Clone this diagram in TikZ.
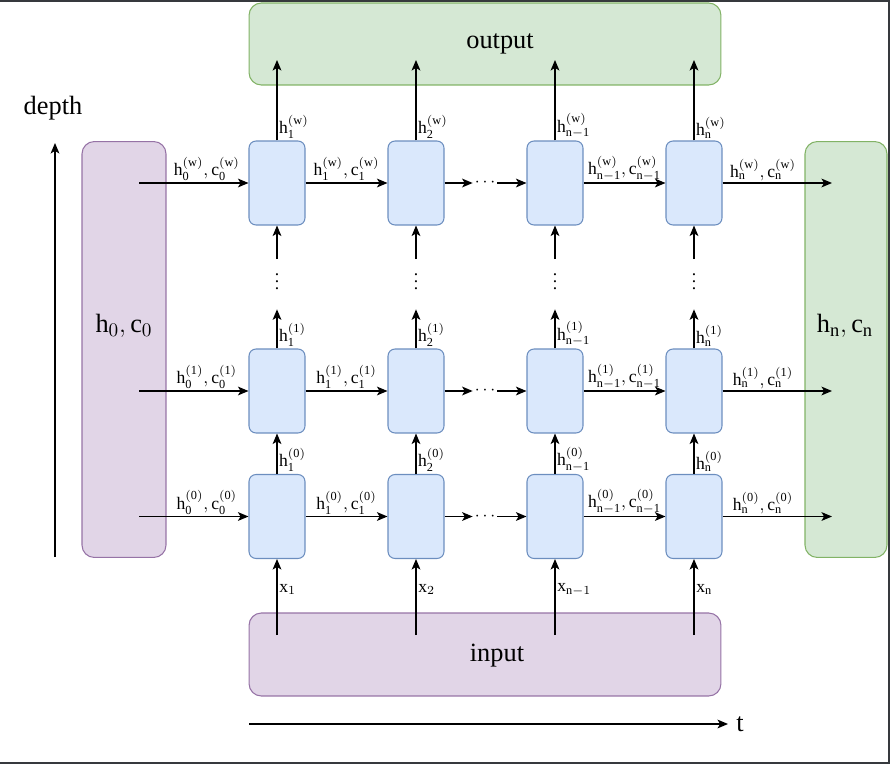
\documentclass[tikz,border=0pt]{standalone}
\usepackage{fontspec}
\setmainfont{Liberation Serif}
\usetikzlibrary{arrows.meta}

\definecolor{cellfill}{HTML}{DAE8FC}
\definecolor{cellline}{HTML}{6C8EBF}
\definecolor{greenfill}{HTML}{D5E8D4}
\definecolor{greenline}{HTML}{82B366}
\definecolor{purplefill}{HTML}{E1D5E7}
\definecolor{purpleline}{HTML}{9673A6}
\definecolor{shotframe}{HTML}{36393D}

\newcommand{\hlab}[2]{$\mathrm{h}^{(\mathrm{#2})}_{\mathrm{#1}}$}
\newcommand{\hclab}[2]{$\mathrm{h}^{(\mathrm{#2})}_{\mathrm{#1}},\mathrm{c}^{(\mathrm{#2})}_{\mathrm{#1}}$}

\begin{document}
\begin{tikzpicture}[x=0.02cm, y=-0.02cm,
    cell/.style={draw=cellline, fill=cellfill, line width=0.6pt, rounded corners=4pt,
      minimum width=1.12cm, minimum height=1.68cm, inner sep=0pt},
    greenbox/.style={draw=greenline, fill=greenfill, line width=0.6pt, rounded corners=7pt, inner sep=0pt},
    purplebox/.style={draw=purpleline, fill=purplefill, line width=0.6pt, rounded corners=7pt, inner sep=0pt},
    arr/.style={-{Stealth[length=6pt, width=5pt, inset=1.5pt]}, line width=0.7pt},
    big/.style={font=\fontsize{15}{18}\selectfont, inner sep=0pt},
    lab/.style={font=\fontsize{10}{12}\selectfont, inner sep=1pt},
    vdot/.style={font=\fontsize{10}{12}\selectfont, inner sep=0pt, anchor=south},
  ]
  \useasboundingbox (0,0) rectangle (890,764);

  % screenshot frame
  \fill[shotframe] (0,0) rectangle (890,2.5);
  \fill[shotframe] (887.5,0) rectangle (890,764);
  \fill[shotframe] (0,761.5) rectangle (890,764);

  % big boxes
  \node[greenbox, minimum width=9.44cm, minimum height=1.64cm] (output) at (485,44) {};
  \node[big] (outtxt) at (500,44) {output};
  \node[purplebox, minimum width=9.44cm, minimum height=1.66cm] (input) at (485,654.5) {};
  \node[big] (intxt) at (497,656) {input};
  \node[purplebox, minimum width=1.68cm, minimum height=8.32cm] (init) at (124,349.5) {};
  \node[big] (inittxt) at (124,326) {$\mathrm{h}_0,\mathrm{c}_0$};
  \node[greenbox, minimum width=1.64cm, minimum height=8.32cm] (final) at (846,349.5) {};
  \node[big] (finaltxt) at (845,326) {$\mathrm{h}_\mathrm{n},\mathrm{c}_\mathrm{n}$};

  % axes
  \coordinate (dbase) at (55,557);
  \coordinate (dtip) at (55,143);
  \draw[arr] (dbase) -- (dtip);
  \node[big] (depth) at (53,108) {depth};
  \coordinate (tbase) at (249,724);
  \coordinate (ttip) at (728,724);
  \draw[arr] (tbase) -- (ttip);
  \node[big, anchor=west] (tlab) at (736,724) {t};

  % helper coordinates
  \coordinate (lbase) at (139,0);
  \coordinate (rtip) at (832,0);
  \coordinate (outtip) at (0,60);
  \coordinate (inbase) at (0,635);

  % cells
  \node[cell] (t1) at (277,183) {};
  \node[cell] (t2) at (416,183) {};
  \node[cell] (t3) at (555,183) {};
  \node[cell] (t4) at (694,183) {};

  \node[cell] (m1) at (277,391) {};
  \node[cell] (m2) at (416,391) {};
  \node[cell] (m3) at (555,391) {};
  \node[cell] (m4) at (694,391) {};

  \node[cell] (b1) at (277,516.5) {};
  \node[cell] (b2) at (416,516.5) {};
  \node[cell] (b3) at (555,516.5) {};
  \node[cell] (b4) at (694,516.5) {};

  % row w
  \draw[arr] (t1.west -| lbase) -- node[lab, above, pos=0.62] {\hclab{0}{w}} (t1.west);
  \draw[arr] (t1.east) -- node[lab, above] {\hclab{1}{w}} (t2.west);
  \node[lab] (td) at (485,183) {$\cdots$};
  \draw[arr] (t2.east) -- (td.west);
  \draw[arr] (td.east) -- (t3.west);
  \draw[arr] (t3.east) -- node[lab, above] {\hclab{n-1}{w}} (t4.west);
  \draw[arr] (t4.east) -- node[lab, above, pos=0.37] {\hclab{n}{w}} (t4.east -| rtip);

  % row 1
  \draw[arr] (m1.west -| lbase) -- node[lab, above, pos=0.62] {\hclab{0}{1}} (m1.west);
  \draw[arr] (m1.east) -- node[lab, above] {\hclab{1}{1}} (m2.west);
  \node[lab] (md) at (485,391) {$\cdots$};
  \draw[arr] (m2.east) -- (md.west);
  \draw[arr] (md.east) -- (m3.west);
  \draw[arr] (m3.east) -- node[lab, above] {\hclab{n-1}{1}} (m4.west);
  \draw[arr] (m4.east) -- node[lab, above, pos=0.37] {\hclab{n}{1}} (m4.east -| rtip);

  % row 0
  \draw[arr] (b1.west -| lbase) -- node[lab, above, pos=0.62] {\hclab{0}{0}} (b1.west);
  \draw[arr] (b1.east) -- node[lab, above] {\hclab{1}{0}} (b2.west);
  \node[lab] (bd) at (485,516.5) {$\cdots$};
  \draw[arr] (b2.east) -- (bd.west);
  \draw[arr] (bd.east) -- (b3.west);
  \draw[arr] (b3.east) -- node[lab, above] {\hclab{n-1}{0}} (b4.west);
  \draw[arr] (b4.east) -- node[lab, above, pos=0.37] {\hclab{n}{0}} (b4.east -| rtip);

  % column 1
  \draw[arr] (t1.north) -- (t1.north |- outtip);
  \node[lab, anchor=south west] (ht1) at (t1.north) {\hlab{1}{w}};
  \node[vdot] (v1) at (277,290) {$\vdots$};
  \draw[arr, shorten <=2pt] (v1.north) -- (t1.south);
  \draw[arr, shorten >=11pt] (m1.north) -- (v1.south);
  \node[lab, anchor=south west] (hm1) at (m1.north) {\hlab{1}{1}};
  \draw[arr] (b1.north) -- (m1.south);
  \node[lab, anchor=south west] (hb1) at (b1.north) {\hlab{1}{0}};
  \draw[arr] (b1.south |- inbase) -- node[lab, right, pos=0.6] {$\mathrm{x}_{1}$} (b1.south);

  % column 2
  \draw[arr] (t2.north) -- (t2.north |- outtip);
  \node[lab, anchor=south west] (ht2) at (t2.north) {\hlab{2}{w}};
  \node[vdot] (v2) at (416,290) {$\vdots$};
  \draw[arr, shorten <=2pt] (v2.north) -- (t2.south);
  \draw[arr, shorten >=11pt] (m2.north) -- (v2.south);
  \node[lab, anchor=south west] (hm2) at (m2.north) {\hlab{2}{1}};
  \draw[arr] (b2.north) -- (m2.south);
  \node[lab, anchor=south west] (hb2) at (b2.north) {\hlab{2}{0}};
  \draw[arr] (b2.south |- inbase) -- node[lab, right, pos=0.6] {$\mathrm{x}_{2}$} (b2.south);

  % column n-1
  \draw[arr] (t3.north) -- (t3.north |- outtip);
  \node[lab, anchor=south west] (ht3) at (t3.north) {\hlab{n-1}{w}};
  \node[vdot] (v3) at (555,290) {$\vdots$};
  \draw[arr, shorten <=2pt] (v3.north) -- (t3.south);
  \draw[arr, shorten >=11pt] (m3.north) -- (v3.south);
  \node[lab, anchor=south west] (hm3) at (m3.north) {\hlab{n-1}{1}};
  \draw[arr] (b3.north) -- (m3.south);
  \node[lab, anchor=south west] (hb3) at (b3.north) {\hlab{n-1}{0}};
  \draw[arr] (b3.south |- inbase) -- node[lab, right, pos=0.6] {$\mathrm{x}_{\mathrm{n}-1}$} (b3.south);

  % column n
  \draw[arr] (t4.north) -- (t4.north |- outtip);
  \node[lab, anchor=south west] (ht4) at (t4.north) {\hlab{n}{w}};
  \node[vdot] (v4) at (694,290) {$\vdots$};
  \draw[arr, shorten <=2pt] (v4.north) -- (t4.south);
  \draw[arr, shorten >=11pt] (m4.north) -- (v4.south);
  \node[lab, anchor=south west] (hm4) at (m4.north) {\hlab{n}{1}};
  \draw[arr] (b4.north) -- (m4.south);
  \node[lab, anchor=south west] (hb4) at (b4.north) {\hlab{n}{0}};
  \draw[arr] (b4.south |- inbase) -- node[lab, right, pos=0.6] {$\mathrm{x}_{\mathrm{n}}$} (b4.south);
\end{tikzpicture}
\end{document}
